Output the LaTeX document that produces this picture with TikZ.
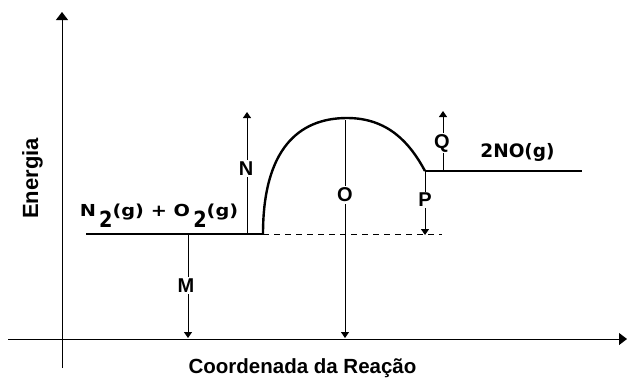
\documentclass[tikz,border=0pt]{standalone}
\usepackage{fontspec}
\setmainfont{Liberation Sans}
\newfontfamily\wide{DejaVu Sans}
\usetikzlibrary{arrows.meta}
\newcommand{\lowtwo}{\raisebox{-10.5pt}{\scalebox{1}[1.35]{2}}}
\begin{document}
\begin{tikzpicture}[x=1pt,y=-1pt,
  lbl/.style={font=\bfseries\fontsize{20}{22}\selectfont, inner sep=1pt},
  cut/.style={lbl, fill=white, inner sep=1.5pt},
  arr/.style={line width=1pt, -{Triangle[length=6pt,width=8pt]}},
  level/.style={line width=2.8pt},
  axis/.style={line width=1pt}]
\useasboundingbox (0,0) rectangle (628,378);
% axes
\coordinate (yb) at (62,368);
\coordinate (yt) at (62,12);
\coordinate (xl) at (8,339);
\coordinate (xr) at (627,339);
\draw[axis,-{Triangle[length=8pt,width=12pt]}] (yb) -- (yt);
\draw[axis,-{Triangle[length=8pt,width=12pt]}] (xl) -- (xr);
\node[lbl, font=\bfseries\fontsize{22}{24}\selectfont, rotate=90, anchor=base] (en) at (38,178.5) {Energia};
\node[lbl, font=\bfseries\fontsize{20.5}{24}\selectfont, anchor=base] (cr) at (302.5,373) {Coordenada da Reação};
% levels
\coordinate (r0) at (86,234);
\coordinate (r1) at (263,234);
\coordinate (p0) at (425,171);
\coordinate (p1) at (582,171);
\coordinate (pk) at (347,118);
\coordinate (d1) at (442,234);
\draw[level] (r0) -- (r1);
\draw[level] (p0) -- (p1);
\draw[line width=2.4pt] (r1) .. controls (263,150) and (298,118) .. (pk)
  .. controls (388,118) and (410,143) .. (p0);
\draw[line width=0.9pt, dash pattern=on 6pt off 5pt] (r1) -- (d1);
\node[lbl, font=\wide\bfseries\fontsize{16.5}{18}\selectfont, anchor=base] (reac) at (159,216.5) {\scalebox{1.17}[1]{N\,\lowtwo(g) + O\,\lowtwo(g)}};
\node[lbl, font=\wide\bfseries\fontsize{18.5}{20}\selectfont, anchor=base] (prod) at (517.5,157) {2NO(g)};
% arrows
\coordinate (m0) at (188,234);
\coordinate (m1) at (188,338);
\draw[arr] (m0) -- (m1);
\node[cut] (M) at (186,285.5) {M};
\coordinate (n0) at (247,234);
\coordinate (n1) at (247,112);
\draw[arr] (n0) -- (n1);
\node[cut] (N) at (246,168.5) {N};
\coordinate (o0) at (345,120);
\coordinate (o1) at (345,338);
\draw[arr] (o0) -- (o1);
\node[cut] (O) at (345,195) {O};
\coordinate (pp1) at (425,235);
\draw[arr] (p0) -- (pp1);
\node[cut] (P) at (425,200) {P};
\coordinate (q0) at (443,171);
\coordinate (q1) at (443,111);
\draw[arr] (q0) -- (q1);
\node[cut] (Q) at (442,143) {Q};
\end{tikzpicture}
\end{document}
